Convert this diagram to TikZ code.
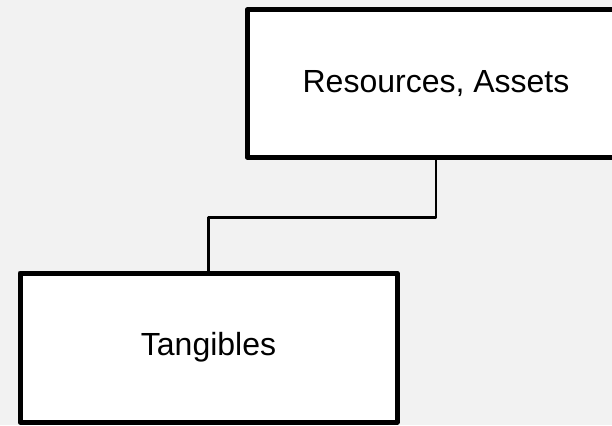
\documentclass[tikz,border=0pt]{standalone}
\usepackage{fontspec}
\setmainfont{Liberation Sans}
\usepackage{tikz}
\usetikzlibrary{positioning}
\definecolor{bggray}{HTML}{F2F2F2}
\tikzset{block/.style={draw, fill=white, line width=5pt, line join=round,
  inner sep=0pt, font=\fontsize{32}{38}\selectfont}}

\begin{document}
\begin{tikzpicture}[x=1pt,y=-1pt]
\useasboundingbox (0,0) rectangle (612,425);
\clip (0,0) rectangle (612,425);
\fill[bggray] (0,0) rectangle (612,425);
\node[block, minimum width=378, minimum height=147] (res) at (436,83.5) {Resources, Assets};
\node[block, minimum width=377, minimum height=149] (tan) at (208.5,347.5) {Tangibles};
\draw [line width=2.2pt, line join=round] (res.south) -- ++(0,58) -| (tan.north);
\end{tikzpicture}
\end{document}
